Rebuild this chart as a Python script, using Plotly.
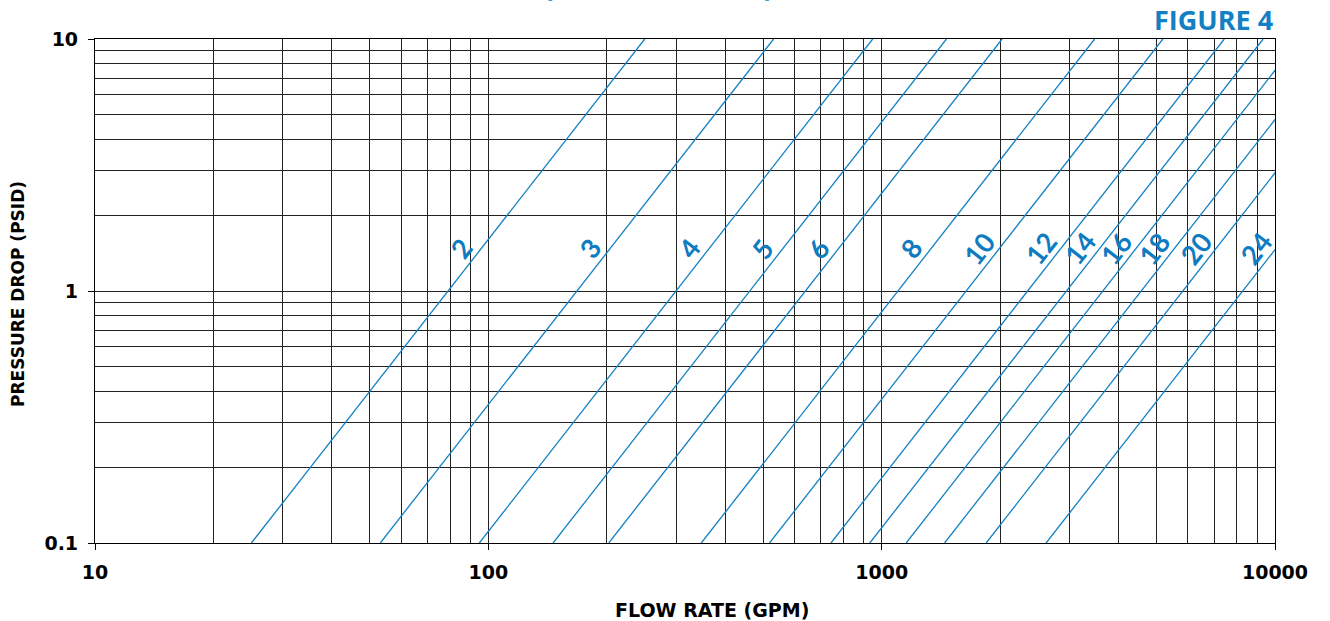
import numpy as np
import plotly.graph_objects as go

# Nominal pipe sizes and the flow (GPM) each one passes at 1 PSID
sizes = ["2", "3", "4", "5", "6", "8", "10", "12", "14", "16", "18", "20", "24"]
flow_at_1psid = [79, 168, 300, 462, 640, 1100, 1640, 2350, 2950, 3650, 4570, 5830, 8280]

x_ticks = [10, 100, 1000, 10000]
x_tick_text = ["10", "100", "1000", "10000"]
y_ticks = [0.1, 1, 10]
y_tick_text = ["0.1", "1", "10"]

# pressure at which the size labels sit, and how far left of its line each label goes
label_psid = 1.48
label_flow_factor = 0.885

BLUE = "#1380c4"
LABEL_BLUE = "#0f7bc0"
GRID = "#222222"
X_RANGE = (10, 10000)
Y_RANGE = (0.1, 10)

fig = go.Figure()

# pressure drop rises with the square of flow: dP = (Q / Q1)^2
p_ends = np.array([Y_RANGE[0], Y_RANGE[1]])
for size, q1 in zip(sizes, flow_at_1psid):
    q = q1 * np.sqrt(p_ends)
    fig.add_trace(go.Scatter(
        x=q, y=p_ends, mode="lines",
        line=dict(color=BLUE, width=1.3),
        showlegend=False, hoverinfo="skip",
    ))
    fig.add_annotation(
        x=np.log10(q1 * np.sqrt(label_psid) * label_flow_factor),
        y=np.log10(label_psid),
        xref="x", yref="y", text=size, showarrow=False,
        textangle=-52,
        font=dict(family="Lato", size=27, color=LABEL_BLUE, weight="bold"),
    )


def minor_vals(lo, hi):
    vals = []
    d = lo
    while d < hi:
        vals += [d * k for k in range(2, 10)]
        d *= 10
    return vals


axis_common = dict(
    type="log", showline=True, linecolor="black", linewidth=1.2, mirror=True,
    showgrid=True, gridcolor=GRID, gridwidth=1,
    ticks="outside", ticklen=6, tickcolor="black", tickwidth=1,
    tickfont=dict(family="DejaVu Sans", size=19, color="black", weight="bold"),
    zeroline=False,
)

fig.update_xaxes(
    **axis_common,
    range=[np.log10(X_RANGE[0]), np.log10(X_RANGE[1])],
    tickmode="array", tickvals=x_ticks, ticktext=x_tick_text,
    ticklabelstandoff=6,
    minor=dict(tickmode="array", tickvals=minor_vals(*X_RANGE), showgrid=True,
               gridcolor=GRID, gridwidth=1, ticks=""),
)
fig.update_yaxes(
    **axis_common,
    range=[np.log10(Y_RANGE[0]), np.log10(Y_RANGE[1])],
    tickmode="array", tickvals=y_ticks, ticktext=y_tick_text,
    ticklabelstandoff=6,
    minor=dict(tickmode="array", tickvals=minor_vals(*Y_RANGE), showgrid=True,
               gridcolor=GRID, gridwidth=1, ticks=""),
)

fig.add_annotation(text="FLOW RATE (GPM)", xref="paper", yref="paper",
                   x=0.523, y=-0.133, xanchor="center", yanchor="middle",
                   showarrow=False,
                   font=dict(family="DejaVu Sans", size=19, color="black", weight="bold"))
fig.add_annotation(text="PRESSURE DROP (PSID)", xref="paper", yref="paper",
                   x=-0.0653, y=0.494, xanchor="center", yanchor="middle",
                   textangle=-90, showarrow=False,
                   font=dict(family="DejaVu Sans", size=17, color="black", weight="bold"))
fig.add_annotation(text="FIGURE 4", xref="paper", yref="paper",
                   x=1.0, y=1.0377, xanchor="right", yanchor="middle",
                   showarrow=False,
                   font=dict(family="Open Sans", size=27, color=BLUE, weight="bold"))

# chart heading above the frame (only its lower edge falls inside the page)
for ch, xp in (("(", 0.384), (")", 0.571)):
    fig.add_annotation(text=ch, xref="paper", yref="paper",
                       x=xp, y=1.0635, xanchor="center", yanchor="bottom",
                       showarrow=False,
                       font=dict(family="Open Sans", size=30, color=BLUE, weight="bold"))

fig.update_layout(
    width=1330, height=621,
    margin=dict(l=95, r=55, t=39, b=78),
    paper_bgcolor="white", plot_bgcolor="white",
    showlegend=False,
)

fig.write_html("out.html")
